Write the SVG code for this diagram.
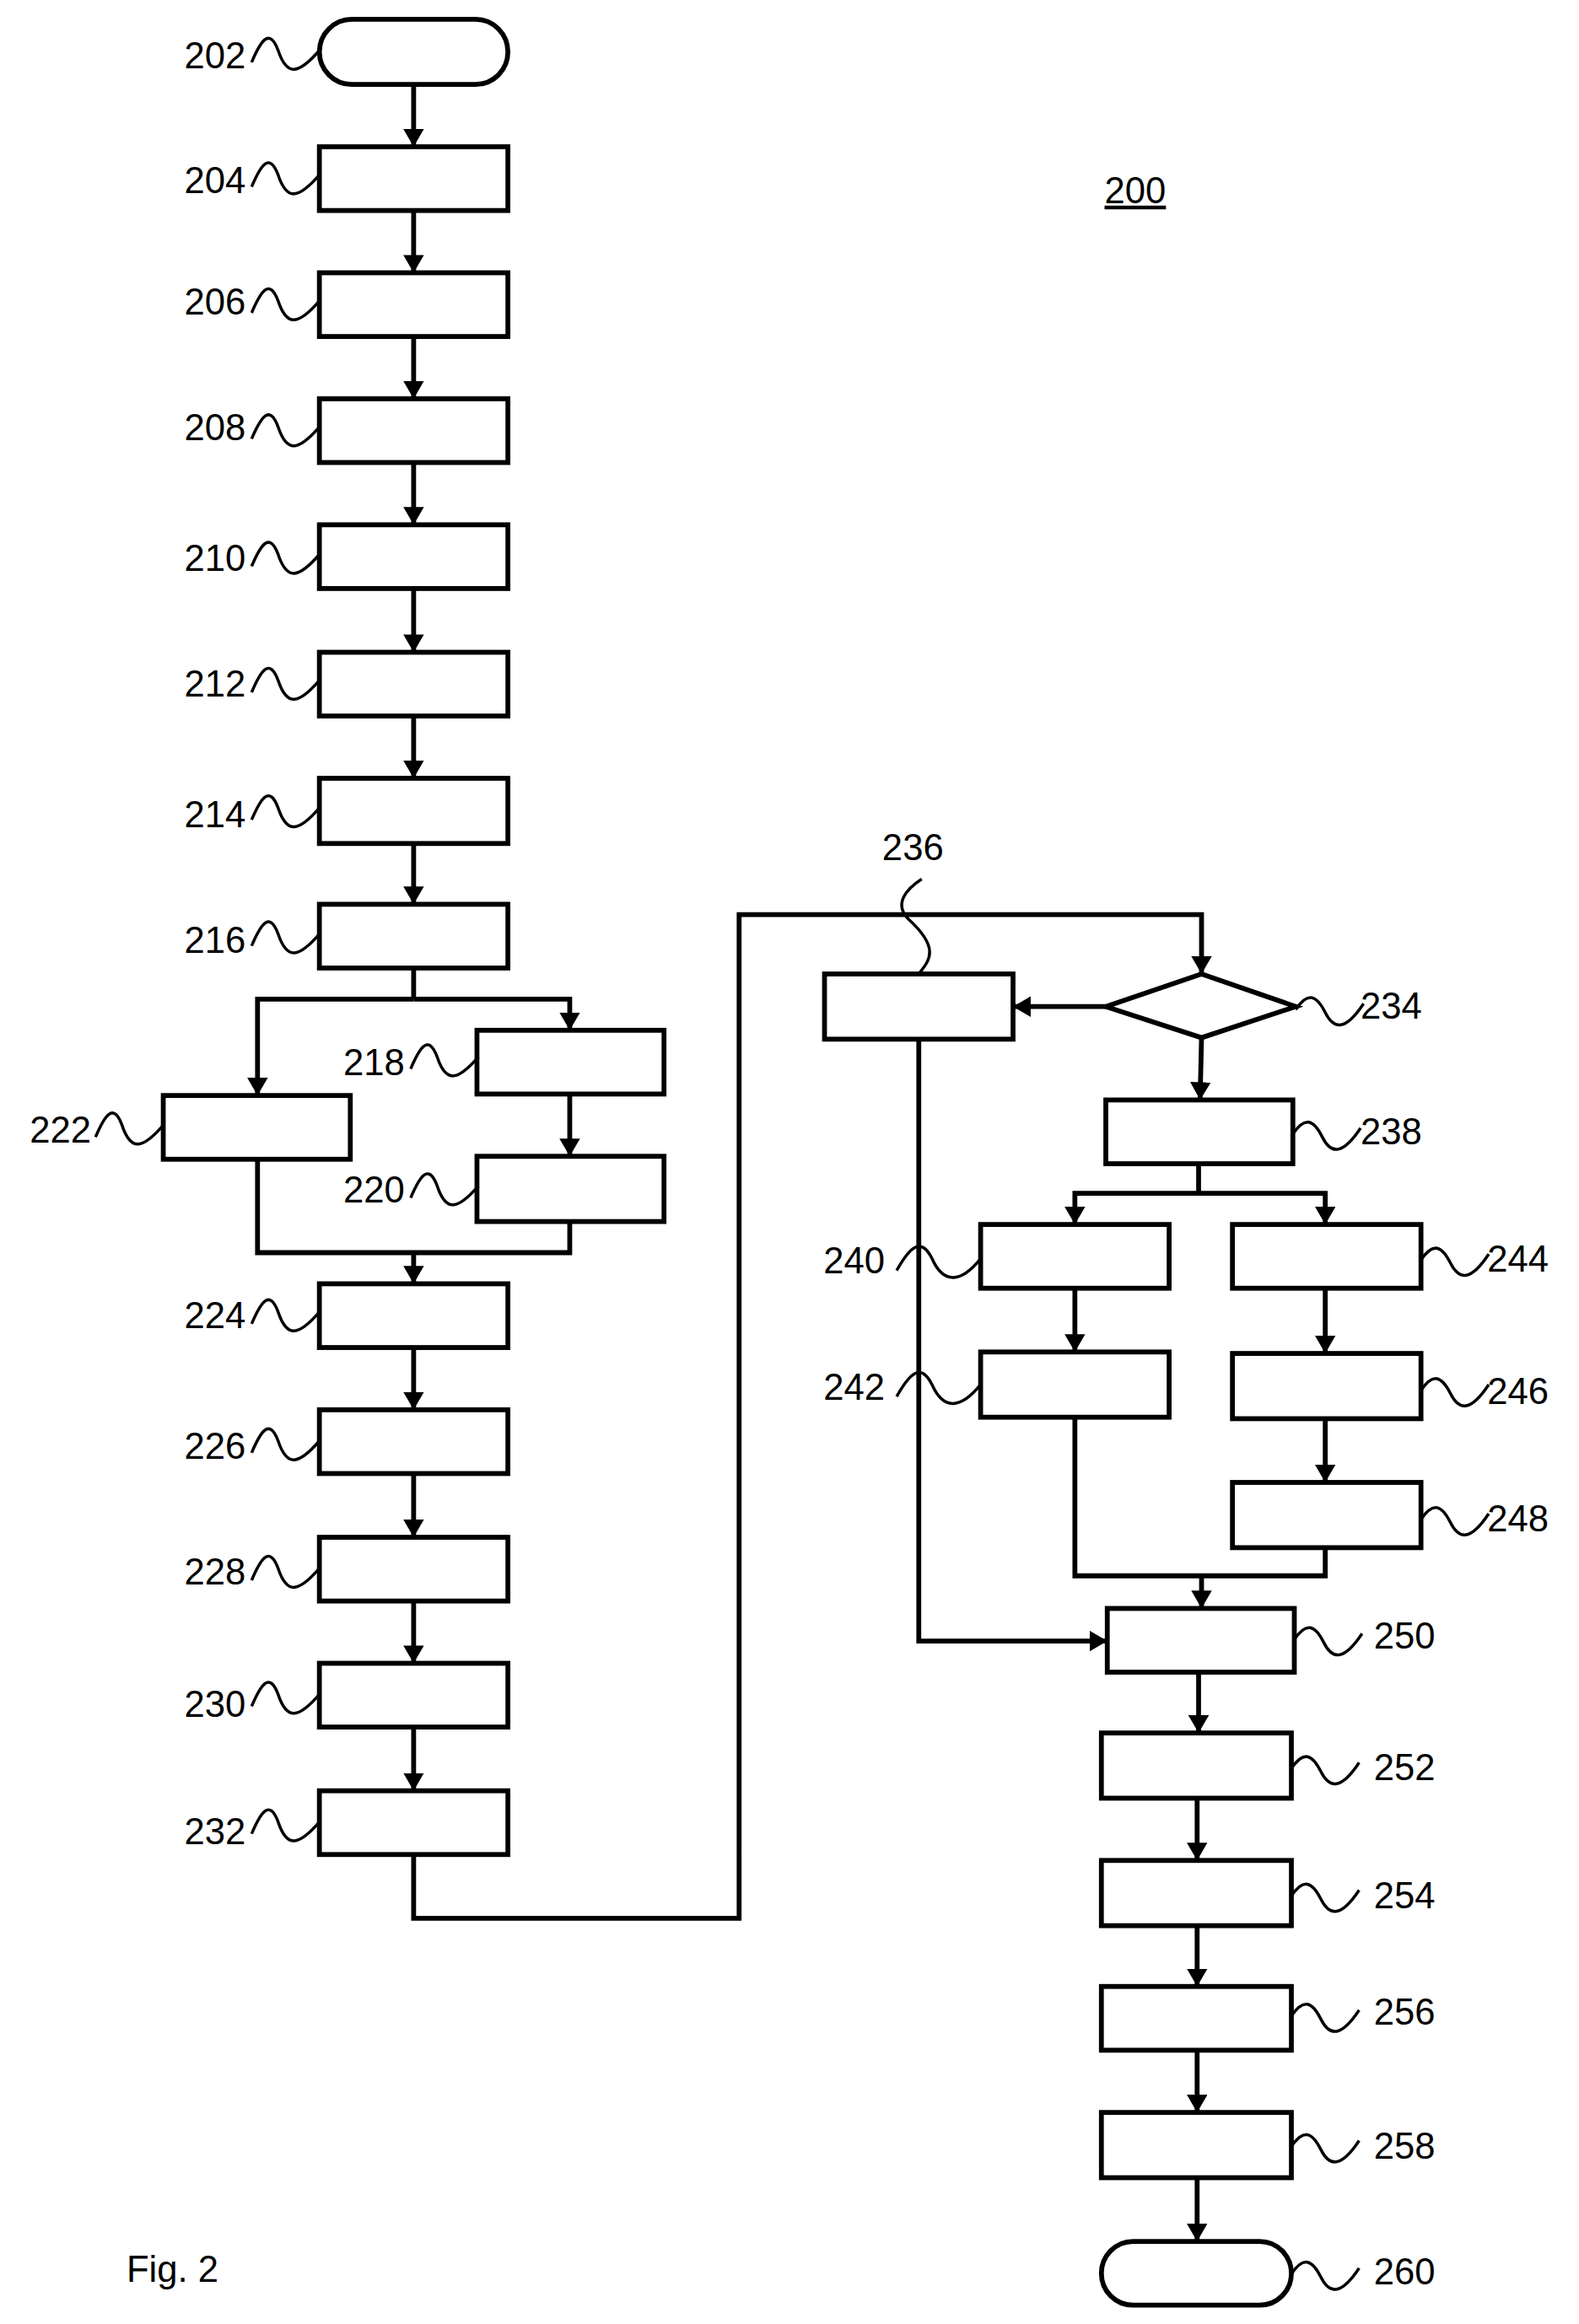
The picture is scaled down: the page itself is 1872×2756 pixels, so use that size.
<svg xmlns="http://www.w3.org/2000/svg" width="1872" height="2756" viewBox="0 0 1872 2756">
<style>
.n{fill:#fff;stroke:#000;stroke-width:3.3}
.c{fill:none;stroke:#000;stroke-width:3.3}
.s{fill:none;stroke:#000;stroke-width:2}
text{font-family:"Liberation Sans",Arial,sans-serif;font-size:25px;fill:#000}
</style>
<defs>
<marker id="a" markerUnits="userSpaceOnUse" markerWidth="12" markerHeight="14" refX="12" refY="7" orient="auto"><path d="M0,0 L12,7 L0,14 z"/></marker>
<path id="sl" d="M0,8 C6,-6 12,-16 18,0 C24,18 32,16 46,0" class="s"/>
<path id="sm" d="M0,8 C8,-6 16,-16 24,0 C32,18 44,16 57,0" class="s"/>
<path id="sr" d="M0,0 C8,-12 14,-10 20,2 C26,14 34,14 46,-4" class="s"/>
</defs>
<rect width="1872" height="2756" fill="#fff"/>
<g transform="translate(5,0) scale(1.746,1.758)">
<g id="connectors">
<path class="c" marker-end="url(#a)" d="M278,57 V99"/>
<path class="c" marker-end="url(#a)" d="M278,142 V184"/>
<path class="c" marker-end="url(#a)" d="M278,227 V269"/>
<path class="c" marker-end="url(#a)" d="M278,312 V354"/>
<path class="c" marker-end="url(#a)" d="M278,397 V440"/>
<path class="c" marker-end="url(#a)" d="M278,483 V525"/>
<path class="c" marker-end="url(#a)" d="M278,569 V610"/>
<path class="c" d="M278,653 V674"/>
<path class="c" marker-end="url(#a)" d="M278,674 H172 V739"/>
<path class="c" marker-end="url(#a)" d="M278,674 H384 V695"/>
<path class="c" marker-end="url(#a)" d="M384,738 V780"/>
<path class="c" d="M172,782 V845 H384 V824"/>
<path class="c" marker-end="url(#a)" d="M278,845 V866"/>
<path class="c" marker-end="url(#a)" d="M278,909 V951"/>
<path class="c" marker-end="url(#a)" d="M278,994 V1037"/>
<path class="c" marker-end="url(#a)" d="M278,1080 V1122"/>
<path class="c" marker-end="url(#a)" d="M278,1165 V1208"/>
<path class="c" marker-end="url(#a)" d="M278,1251 V1294 H499 V617 H813 V657"/>
<path class="c" marker-end="url(#a)" d="M748,679 H685"/>
<path class="c" marker-end="url(#a)" d="M813,700 L812,742"/>
<path class="c" d="M811,785 V805"/>
<path class="c" marker-end="url(#a)" d="M811,805 H727 V826"/>
<path class="c" marker-end="url(#a)" d="M811,805 H897 V826"/>
<path class="c" marker-end="url(#a)" d="M727,869 V912"/>
<path class="c" marker-end="url(#a)" d="M897,869 V913"/>
<path class="c" marker-end="url(#a)" d="M897,957 V1000"/>
<path class="c" d="M727,956 V1063 H897 V1044"/>
<path class="c" marker-end="url(#a)" d="M813,1063 V1085"/>
<path class="c" marker-end="url(#a)" d="M621,701 V1107 H749"/>
<path class="c" marker-end="url(#a)" d="M811,1128 V1169"/>
<path class="c" marker-end="url(#a)" d="M810,1213 V1255"/>
<path class="c" marker-end="url(#a)" d="M810,1299 V1340"/>
<path class="c" marker-end="url(#a)" d="M810,1383 V1425"/>
<path class="c" marker-end="url(#a)" d="M810,1469 V1512"/>
</g>
<g id="n202"><rect class="n" x="214" y="13" width="128" height="44" rx="22"/><text x="164" y="46" text-anchor="end">202</text><use href="#sl" x="168" y="34"/></g>
<g id="n204"><rect class="n" x="214" y="99" width="128" height="43"/><text x="164" y="130" text-anchor="end">204</text><use href="#sl" x="168" y="118"/></g>
<g id="n206"><rect class="n" x="214" y="184" width="128" height="43"/><text x="164" y="212" text-anchor="end">206</text><use href="#sl" x="168" y="203"/></g>
<g id="n208"><rect class="n" x="214" y="269" width="128" height="43"/><text x="164" y="297" text-anchor="end">208</text><use href="#sl" x="168" y="288"/></g>
<g id="n210"><rect class="n" x="214" y="354" width="128" height="43"/><text x="164" y="385" text-anchor="end">210</text><use href="#sl" x="168" y="374"/></g>
<g id="n212"><rect class="n" x="214" y="440" width="128" height="43"/><text x="164" y="470" text-anchor="end">212</text><use href="#sl" x="168" y="459"/></g>
<g id="n214"><rect class="n" x="214" y="525" width="128" height="44"/><text x="164" y="558" text-anchor="end">214</text><use href="#sl" x="168" y="545"/></g>
<g id="n216"><rect class="n" x="214" y="610" width="128" height="43"/><text x="164" y="643" text-anchor="end">216</text><use href="#sl" x="168" y="630"/></g>
<g id="n218"><rect class="n" x="321" y="695" width="127" height="43"/><text x="272" y="725" text-anchor="end">218</text><use href="#sl" x="276" y="713"/></g>
<g id="n220"><rect class="n" x="321" y="780" width="127" height="44"/><text x="272" y="811" text-anchor="end">220</text><use href="#sl" x="276" y="800"/></g>
<g id="n222"><rect class="n" x="108" y="739" width="127" height="43"/><text x="59" y="771" text-anchor="end">222</text><use href="#sl" x="62" y="759"/></g>
<g id="n224"><rect class="n" x="214" y="866" width="128" height="43"/><text x="164" y="896" text-anchor="end">224</text><use href="#sl" x="168" y="885"/></g>
<g id="n226"><rect class="n" x="214" y="951" width="128" height="43"/><text x="164" y="984" text-anchor="end">226</text><use href="#sl" x="168" y="972"/></g>
<g id="n228"><rect class="n" x="214" y="1037" width="128" height="43"/><text x="164" y="1069" text-anchor="end">228</text><use href="#sl" x="168" y="1058"/></g>
<g id="n230"><rect class="n" x="214" y="1122" width="128" height="43"/><text x="164" y="1158" text-anchor="end">230</text><use href="#sl" x="168" y="1143"/></g>
<g id="n232"><rect class="n" x="214" y="1208" width="128" height="43"/><text x="164" y="1244" text-anchor="end">232</text><use href="#sl" x="168" y="1229"/></g>
<g id="n234"><path class="n" d="M748,679 L813,657 L877,679 L813,700 z"/><text x="921" y="687">234</text><use href="#sr" x="877" y="681"/></g>
<g id="n236"><rect class="n" x="557" y="657" width="128" height="44"/><text x="617" y="580" text-anchor="middle">236</text><path class="s" d="M621,657 C628,648 636,640 614,620 C604,610 612,600 623,593"/></g>
<g id="n238"><rect class="n" x="748" y="742" width="127" height="43"/><text x="921" y="772">238</text><use href="#sr" x="875" y="765"/></g>
<g id="n240"><rect class="n" x="663" y="826" width="128" height="43"/><text x="598" y="859" text-anchor="end">240</text><use href="#sm" x="606" y="849"/></g>
<g id="n242"><rect class="n" x="663" y="912" width="128" height="44"/><text x="598" y="944" text-anchor="end">242</text><use href="#sm" x="606" y="934"/></g>
<g id="n244"><rect class="n" x="834" y="826" width="128" height="43"/><text x="1007" y="858">244</text><use href="#sr" x="962" y="850"/></g>
<g id="n246"><rect class="n" x="834" y="913" width="128" height="44"/><text x="1007" y="947">246</text><use href="#sr" x="962" y="938"/></g>
<g id="n248"><rect class="n" x="834" y="1000" width="128" height="44"/><text x="1007" y="1033">248</text><use href="#sr" x="962" y="1025"/></g>
<g id="n250"><rect class="n" x="749" y="1085" width="127" height="43"/><text x="930" y="1112">250</text><use href="#sr" x="876" y="1106"/></g>
<g id="n252"><rect class="n" x="745" y="1169" width="129" height="44"/><text x="930" y="1201">252</text><use href="#sr" x="874" y="1193"/></g>
<g id="n254"><rect class="n" x="745" y="1255" width="129" height="44"/><text x="930" y="1287">254</text><use href="#sr" x="874" y="1279"/></g>
<g id="n256"><rect class="n" x="745" y="1340" width="129" height="43"/><text x="930" y="1366">256</text><use href="#sr" x="874" y="1360"/></g>
<g id="n258"><rect class="n" x="745" y="1425" width="129" height="44"/><text x="930" y="1456">258</text><use href="#sr" x="874" y="1448"/></g>
<g id="n260"><rect class="n" x="745" y="1512" width="129" height="43" rx="21.5"/><text x="930" y="1541">260</text><use href="#sr" x="874" y="1534"/></g>
<text x="768" y="137" text-anchor="middle" text-decoration="underline">200</text>
<text x="83" y="1539">Fig. 2</text>
</g>
</svg>
